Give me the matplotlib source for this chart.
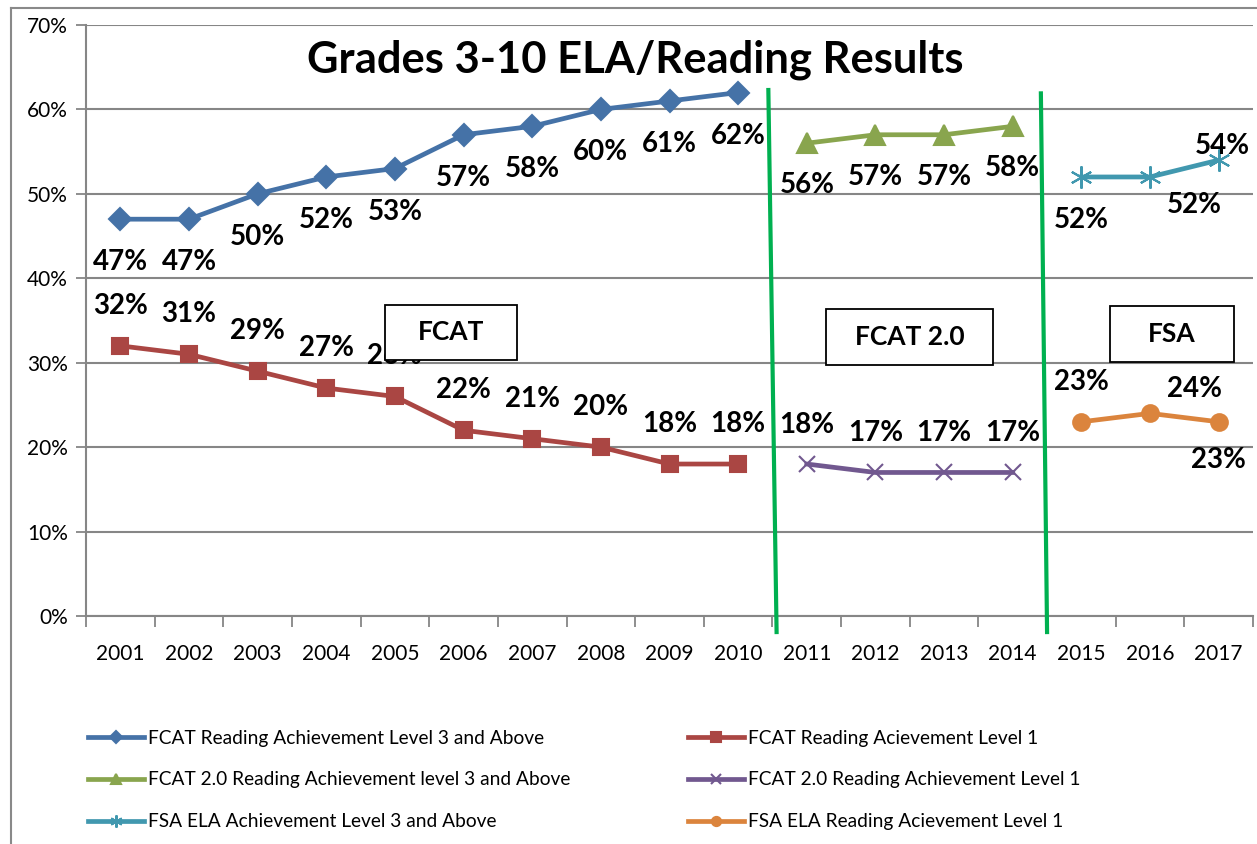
import matplotlib.pyplot as plt
from matplotlib.lines import Line2D
import numpy as np

# Dati
years = [str(y) for y in range(2001, 2018)]

fcat_years = years[0:10]
fcat_l3 = [47, 47, 50, 52, 53, 57, 58, 60, 61, 62]
fcat_l1 = [32, 31, 29, 27, 26, 22, 21, 20, 18, 18]

fcat2_years = years[10:14]
fcat2_l3 = [56, 57, 57, 58]
fcat2_l1 = [18, 17, 17, 17]

fsa_years = years[14:17]
fsa_l3 = [52, 52, 54]
fsa_l1 = [23, 24, 23]

labels = [
    "FCAT Reading Achievement Level 3 and Above",
    "FCAT Reading Acievement Level 1",
    "FCAT 2.0 Reading Achievement level 3 and Above",
    "FCAT 2.0 Reading Achievement Level 1",
    "FSA ELA Achievement Level 3 and Above",
    "FSA ELA Reading Acievement Level 1",
]

plt.rcParams['font.family'] = ['Lato', 'DejaVu Sans']

W, H = 1257, 844
fig = plt.figure(figsize=(W / 100, H / 100), dpi=100)
ax = fig.add_axes([86 / W, 1 - 616 / H, (1253 - 86) / W, (616 - 25) / H])

x_of = {y: i for i, y in enumerate(years)}

series = [
    (fcat_years, fcat_l3, '#4572A7', 'D', 11, labels[0], [(0, -43)] * 10),
    (fcat_years, fcat_l1, '#AA4643', 's', 12, labels[1], [(0, 40)] * 10),
    (fcat2_years, fcat2_l3, '#89A54E', '^', 14, labels[2], [(0, -42)] * 4),
    (fcat2_years, fcat2_l1, '#71588F', 'x', 12, labels[3], [(0, 39)] * 4),
    (fsa_years, fsa_l3, '#4198AF', (6, 2, 0), 16, labels[4], [(0, -43), (44, -28), (4, 14)]),
    (fsa_years, fsa_l1, '#DB843D', 'o', 12, labels[5], [(0, 40), (44, 24), (0, -38)]),
]

handles = []
for yrs, vals, col, mk, ms, lab, offs in series:
    xs = [x_of[y] for y in yrs]
    ln, = ax.plot(xs, vals, color=col, lw=3.4, marker=mk, markersize=ms,
                  markeredgecolor=col, markeredgewidth=1.5, label=lab, zorder=3,
                  clip_on=False)
    handles.append(ln)
    for xv, v, (dx, dy) in zip(xs, vals, offs):
        ax.annotate(f'{v}%', (xv, v), xytext=(dx, dy), textcoords='offset pixels',
                    ha='center', va='center', fontsize=20, fontweight='bold',
                    color='black', zorder=4)

# linee verdi di separazione
ax.plot([9.44, 9.56], [62.3, -1.9], color='#00B050', lw=3, clip_on=False, zorder=5)
ax.plot([13.41, 13.50], [61.9, -1.9], color='#00B050', lw=3, clip_on=False, zorder=5)

# box di testo (coprono le etichette sotto, come nell'originale)
for (x0, x1, y0, y1), txt in [((385, 517, 305, 360), 'FCAT'),
                             ((826, 993, 309, 365), 'FCAT 2.0'),
                             ((1110, 1234, 306, 362), 'FSA')]:
    r = plt.Rectangle((x0 / W, 1 - y1 / H), (x1 - x0) / W, (y1 - y0) / H,
                      transform=fig.transFigure, facecolor='white', edgecolor='black',
                      lw=1.3, zorder=6)
    fig.add_artist(r)
    fig.text((x0 + x1) / 2 / W, 1 - (y0 + y1) / 2 / H, txt, ha='center', va='center',
             fontsize=19, fontweight='bold', zorder=7)

# assi
ax.set_xlim(-0.5, 16.5)
ax.set_ylim(0, 70)
ax.set_yticks(range(0, 71, 10))
ax.set_yticklabels([f'{v}%' for v in range(0, 71, 10)], fontsize=15)
ax.set_xticks(range(len(years)))
ax.set_xticklabels(years, fontsize=15)
ax.set_xticks(np.arange(-0.5, 17, 1), minor=True)
ax.tick_params(axis='x', which='major', length=0, pad=20)
ax.tick_params(axis='x', which='minor', length=8, width=1.3, color='#868686', direction='out')
ax.tick_params(axis='y', length=7, width=1.3, color='#868686', pad=6)
ax.grid(axis='y', color='#868686', lw=1.5, zorder=0)
for s in ['top', 'right']:
    ax.spines[s].set_visible(False)
for s in ['left', 'bottom']:
    ax.spines[s].set_color('#868686')
    ax.spines[s].set_linewidth(1.5)
ax.set_axisbelow(True)

fig.text(635 / W, 1 - 60 / H, 'Grades 3-10 ELA/Reading Results', ha='center', va='center',
         fontsize=31.3, fontweight='bold')

# bordo esterno
fig.add_artist(Line2D([11 / W, 11 / W], [0, 1 - 8 / H], color='#898989', lw=1.5))
fig.add_artist(Line2D([11 / W, 1], [1 - 8 / H, 1 - 8 / H], color='#898989', lw=1.5))

# legenda
leg_kw = dict(frameon=False, fontsize=13.8, handlelength=2.9, handletextpad=0.25,
              labelspacing=1.3, markerscale=0.55, borderpad=0, borderaxespad=0)
fig.legend(handles=[handles[0], handles[2], handles[4]], loc='center left',
           bbox_to_anchor=(88 / W, 1 - 780 / H), **leg_kw)
fig.legend(handles=[handles[1], handles[3], handles[5]], loc='center left',
           bbox_to_anchor=(688 / W, 1 - 780 / H), **leg_kw)

fig.savefig('out.png', dpi=100)
